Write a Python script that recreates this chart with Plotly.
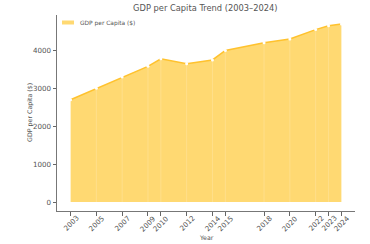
import plotly.graph_objects as go

years = [2003, 2005, 2007, 2009, 2010, 2012, 2014, 2015, 2018, 2020, 2022, 2023, 2024]
gdp = [2700, 3000, 3300, 3580, 3780, 3650, 3750, 4000, 4200, 4300, 4550, 4650, 4700]
y_ticks = [0, 1000, 2000, 3000, 4000]
series_name = "GDP per Capita ($)"

FONT = "DejaVu Sans"
TXT = "#555555"
FILL = "#FFD972"

fig = go.Figure()
fig.add_trace(go.Scatter(
    x=years, y=gdp, mode="lines+markers", fill="tozeroy",
    fillcolor=FILL,
    line=dict(color="#FFC22E", width=1.5),
    marker=dict(color="white", size=3, line=dict(width=0)),
    name=series_name, showlegend=False,
))
# faint segment edges inside the fill
vx, vy = [], []
for x, y in zip(years, gdp):
    vx += [x, x, None]
    vy += [0, y, None]
fig.add_trace(go.Scatter(x=vx, y=vy, mode="lines", line=dict(color="rgba(255,255,255,0.3)", width=0.6),
                         showlegend=False, hoverinfo="skip"))

annotations = []
for yr in years:
    annotations.append(dict(x=yr, y=0, xref="x", yref="paper", yshift=-12, text=str(yr),
                            textangle=-45, showarrow=False, xanchor="center", yanchor="middle",
                            font=dict(size=7.1, color=TXT, family=FONT)))
annotations.append(dict(x=0.5, y=0, xref="paper", yref="paper", yshift=-26, text="Year",
                        showarrow=False, xanchor="center", yanchor="middle",
                        font=dict(size=6.3, color=TXT, family=FONT)))
annotations.append(dict(x=0, y=0.5, xref="paper", yref="paper", xshift=-27, text=series_name,
                        textangle=-90, showarrow=False, xanchor="center", yanchor="middle",
                        font=dict(size=6.3, color=TXT, family=FONT)))
# legend
annotations.append(dict(x=0, y=1, xref="paper", yref="paper", xshift=21, yshift=-8, text=series_name,
                        showarrow=False, xanchor="left", yanchor="middle",
                        font=dict(size=5.9, color=TXT, family=FONT)))

fig.update_layout(
    width=370, height=244,
    margin=dict(l=57, r=15, t=15, b=33),
    paper_bgcolor="white", plot_bgcolor="white",
    font=dict(family=FONT, size=7, color=TXT),
    title=dict(text="GDP per Capita Trend (2003–2024)", x=0.555, xanchor="center",
               y=0.966, yanchor="middle", yref="container",
               font=dict(family=FONT, size=8.3, color=TXT)),
    showlegend=False,
    annotations=annotations,
    shapes=[dict(type="rect", xref="paper", yref="paper", x0=5/298, x1=17/298,
                 y0=1 - 9.5/196, y1=1 - 5.5/196, fillcolor=FILL, line=dict(width=0))],
)
fig.update_xaxes(
    range=[2001.95, 2025.05], tickmode="array", tickvals=years, showticklabels=False,
    ticks="outside", ticklen=3.5, tickcolor="#666", showline=True, linecolor="#777",
    linewidth=1, showgrid=False, zeroline=False,
)
fig.update_yaxes(
    range=[-235, 4935], tickmode="array", tickvals=y_ticks, ticks="outside", ticklen=3.5,
    tickcolor="#666", showline=True, linecolor="#777", linewidth=1, showgrid=False, zeroline=False,
    tickfont=dict(size=7.1, color=TXT),
)
fig.write_html("out.html")
